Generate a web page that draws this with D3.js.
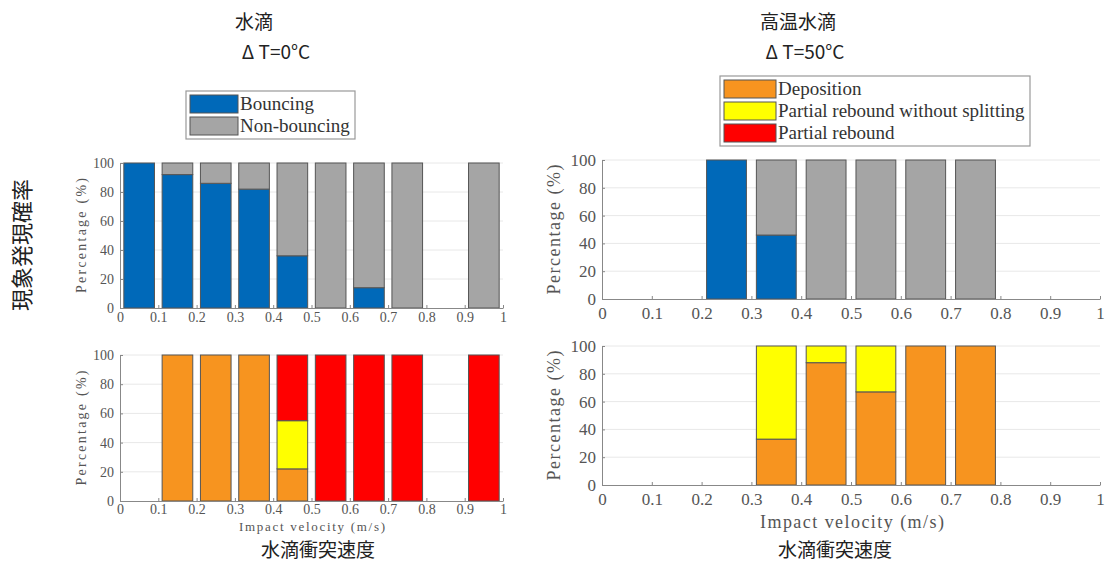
<!DOCTYPE html>
<html>
<head>
<meta charset="utf-8">
<script src="https://cdn.jsdelivr.net/npm/d3@7"></script>
<style>
  body { margin: 0; background: #fff; }
  svg { display: block; }
  .jp { font-family: "Noto Sans CJK JP", "Noto Sans", sans-serif; fill: #222; }
</style>
</head>
<body>
<svg id="chart" width="1110" height="563"></svg>
<script>

// Impact velocity bins (bar centres, m/s)
var velocities = [0.05, 0.15, 0.25, 0.35, 0.45, 0.55, 0.65, 0.75, 0.85, 0.95];

var xTicks = [0, 0.1, 0.2, 0.3, 0.4, 0.5, 0.6, 0.7, 0.8, 0.9, 1];
var yTicks = [0, 20, 40, 60, 80, 100];

var bounceKeys = ["Bouncing", "Non-bouncing"];
var outcomeKeys = ["Deposition", "Partial rebound without splitting", "Partial rebound"];

// Water drop, dT = 0 C  (null = no data in that bin)
var coldBouncing    = [100, 92, 86, 82, 36,   0, 14,   0, null,   0];
var coldNonBouncing = [  0,  8, 14, 18, 64, 100, 86, 100, null, 100];
var coldDeposition  = [null, 100, 100, 100, 22,   0,   0,   0, null,   0];
var coldPartialNoSplit = [null, 0,  0,   0, 33,   0,   0,   0, null,   0];
var coldPartial     = [null,  0,   0,   0, 45, 100, 100, 100, null, 100];

// Hot water drop, dT = 50 C
var hotBouncing    = [null, null, 100, 46,   0,   0,   0,   0, null, null];
var hotNonBouncing = [null, null,   0, 54, 100, 100, 100, 100, null, null];
var hotDeposition  = [null, null, null, 33, 88, 67, 100, 100, null, null];
var hotPartialNoSplit = [null, null, null, 67, 12, 33, 0, 0, null, null];
var hotPartial     = [null, null, null,  0,  0,  0,  0,  0, null, null];

var colors = {
	"Bouncing": "#0069b9",
	"Non-bouncing": "#a5a5a5",
	"Deposition": "#f7941f",
	"Partial rebound without splitting": "#ffff00",
	"Partial rebound": "#ff0000"
};

var serif = "'Liberation Serif', 'Times New Roman', serif";
var svg = d3.select("#chart");

function buildRows(keys, series) {
	var rows = [];
	velocities.forEach(function(v, i) {
		if (series[0][i] === null) return;
		var row = { v: v };
		keys.forEach(function(k, j) { row[k] = series[j][i]; });
		rows.push(row);
	});
	return rows;
}

function drawPanel(p) {
	var x = d3.scaleLinear().domain([0, 1]).range([p.left, p.right]);
	var y = d3.scaleLinear().domain([0, 100]).range([p.bottom, p.top]);
	var g = svg.append("g");

	// light grid
	g.selectAll(".grid")
		.data(yTicks.filter(function(d) { return d > 0; }))
		.enter().append("line")
		.attr("x1", x(0)).attr("x2", x(1))
		.attr("y1", function(d) { return y(d); })
		.attr("y2", function(d) { return y(d); })
		.attr("stroke", "#e8e8e8").attr("stroke-width", 1);

	// stacked bars
	var rows = buildRows(p.keys, p.series);
	var stacked = d3.stack().keys(p.keys)(rows);
	var barW = x(0.08) - x(0);

	stacked.forEach(function(layer) {
		g.selectAll(null)
			.data(layer.filter(function(d) { return d[1] - d[0] > 0; }))
			.enter().append("rect")
			.attr("x", function(d) { return x(d.data.v) - barW / 2; })
			.attr("y", function(d) { return y(d[1]); })
			.attr("width", barW)
			.attr("height", function(d) { return y(d[0]) - y(d[1]); })
			.attr("fill", colors[layer.key])
			.attr("stroke", "#555")
			.attr("stroke-width", 1);
	});

	// axes
	var xAxis = d3.axisBottom(x)
		.tickValues(xTicks)
		.tickSizeInner(-3)
		.tickSizeOuter(0)
		.tickPadding(p.xPad)
		.tickFormat(function(d) { return String(+d.toFixed(1)); });

	var yAxis = d3.axisLeft(y)
		.tickValues(yTicks)
		.tickSizeInner(-3)
		.tickSizeOuter(0)
		.tickPadding(6);

	var gx = g.append("g")
		.attr("transform", "translate(0," + p.bottom + ")")
		.call(xAxis);
	var gy = g.append("g")
		.attr("transform", "translate(" + p.left + ",0)")
		.call(yAxis);

	[gx, gy].forEach(function(a) {
		a.attr("font-family", null);
		a.select(".domain").attr("stroke", "#888");
		a.selectAll(".tick line").attr("stroke", "#888");
		a.selectAll(".tick text")
			.style("font-family", serif)
			.style("font-size", p.tickSize + "px")
			.style("fill", "#555");
	});

	// y label
	g.append("text")
		.attr("transform", "translate(" + (p.left - p.ylabOff) + "," + ((p.top + p.bottom) / 2) + ") rotate(-90)")
		.attr("text-anchor", "middle")
		.attr("textLength", p.ylabLen)
		.attr("lengthAdjust", "spacing")
		.style("font-family", serif)
		.style("font-size", p.labelSize + "px")
		.style("fill", "#555")
		.text("Percentage (%)");

	if (p.xlabel) {
		g.append("text")
			.attr("x", p.xlabel[0]).attr("y", p.xlabel[1])
			.attr("text-anchor", "middle")
			.attr("textLength", p.xlabel[2])
			.attr("lengthAdjust", "spacing")
			.style("font-family", serif)
			.style("font-size", p.xlabel[3] + "px")
			.style("fill", "#555")
			.text("Impact velocity (m/s)");
	}
}

function drawLegend(l) {
	var g = svg.append("g");
	g.append("rect")
		.attr("x", l.x).attr("y", l.y)
		.attr("width", l.w).attr("height", l.h)
		.attr("fill", "#fff").attr("stroke", "#999").attr("stroke-width", 1.2);
	l.keys.forEach(function(k, i) {
		var cy = l.y + 4 + i * l.row;
		g.append("rect")
			.attr("x", l.x + 4).attr("y", cy)
			.attr("width", l.sw).attr("height", l.row - 4)
			.attr("fill", colors[k]).attr("stroke", "#555").attr("stroke-width", 1);
		g.append("text")
			.attr("x", l.x + l.sw + 6).attr("y", cy + l.row - 7)
			.style("font-family", serif)
			.style("font-size", l.font + "px")
			.style("fill", "#333")
			.text(k);
	});
}

// left column (water drop)
drawPanel({ left: 120, right: 503, top: 163, bottom: 308, keys: bounceKeys,
	series: [coldBouncing, coldNonBouncing], tickSize: 14, xPad: 4, labelSize: 14, ylabOff: 34, ylabLen: 115 });
drawPanel({ left: 120, right: 503, top: 355, bottom: 501, keys: outcomeKeys,
	series: [coldDeposition, coldPartialNoSplit, coldPartial], tickSize: 14, xPad: 3, labelSize: 14, ylabOff: 34, ylabLen: 115,
	xlabel: [312, 531, 146, 13] });

// right column (hot water drop)
drawPanel({ left: 602, right: 1100, top: 160, bottom: 299, keys: bounceKeys,
	series: [hotBouncing, hotNonBouncing], tickSize: 17, xPad: 8, labelSize: 18, ylabOff: 42, ylabLen: 130 });
drawPanel({ left: 602, right: 1100, top: 346, bottom: 485, keys: outcomeKeys,
	series: [hotDeposition, hotPartialNoSplit, hotPartial], tickSize: 17, xPad: 8, labelSize: 18, ylabOff: 42, ylabLen: 130,
	xlabel: [852, 528, 184, 18] });

drawLegend({ x: 186, y: 91, w: 169, h: 48, row: 22, sw: 48, font: 19, keys: bounceKeys });
drawLegend({ x: 720, y: 76, w: 310, h: 70, row: 22, sw: 52, font: 19, keys: outcomeKeys });

// Japanese annotations
function jp(txt, x, y, size, rot) {
	svg.append("text")
		.attr("class", "jp")
		.attr("text-anchor", "middle")
		.attr("transform", "translate(" + x + "," + y + ")" + (rot ? " rotate(" + rot + ")" : ""))
		.style("font-size", size + "px")
		.text(txt);
}
jp("水滴", 254, 29, 19);
jp("Δ T=0°C", 276, 59, 19);
jp("高温水滴", 798, 29, 19);
jp("Δ T=50°C", 805, 59, 19);
jp("現象発現確率", 30, 245, 22, -90);
jp("水滴衝突速度", 318, 557, 19);
jp("水滴衝突速度", 835, 557, 19);

</script>
</body>
</html>
